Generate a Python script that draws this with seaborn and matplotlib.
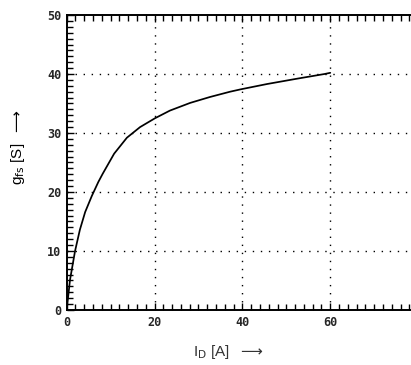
import matplotlib
matplotlib.use("Agg")
import matplotlib.pyplot as plt
from matplotlib.ticker import MultipleLocator
import seaborn as sns
import pandas as pd

# Forward transconductance vs. drain current
drain_current = [0, 0.75, 1.9, 3.0, 4.2, 5.7, 7.2, 8.2, 10.8, 13.7, 16.7,
                 20.1, 23.5, 28.1, 32.6, 37.2, 39.6, 45.6, 52.4, 58.7, 60.0]
transconductance = [0, 5.1, 10.0, 13.6, 16.6, 19.3, 21.7, 23.1, 26.5, 29.2, 31.0,
                    32.5, 33.8, 35.1, 36.1, 37.0, 37.4, 38.3, 39.2, 40.0, 40.2]
x_ticks = [0, 20, 40, 60, 80]
y_ticks = [0, 10, 20, 30, 40, 50]

df = pd.DataFrame({"ID": drain_current, "gfs": transconductance})

sns.set_style("ticks")
plt.rcParams["font.family"] = ["Liberation Sans", "DejaVu Sans"]

fig = plt.figure(figsize=(4.11, 3.65), dpi=100)
ax = fig.add_axes([0.1623, 0.1507, 0.855, 0.8082])

sns.lineplot(data=df, x="ID", y="gfs", ax=ax, color="black", linewidth=1.25,
             estimator=None, sort=False)

ax.set_xlim(0, 80)
ax.set_ylim(0, 50)
ax.set_xticks(x_ticks)
ax.set_yticks(y_ticks)
ax.set_xticklabels([str(v) for v in x_ticks])
ax.set_yticklabels([str(v) for v in y_ticks])
ax.xaxis.set_minor_locator(MultipleLocator(2))
ax.yaxis.set_minor_locator(MultipleLocator(1))

for lab in ax.get_xticklabels() + ax.get_yticklabels():
    lab.set_fontfamily("DejaVu Sans Mono")
    lab.set_fontweight("bold")
    lab.set_fontsize(8.5)

ax.tick_params(which="both", direction="in", top=True, right=True,
               color="black", width=1.0)
ax.tick_params(which="major", length=5, pad=4)
ax.tick_params(which="minor", length=4)
for s in ax.spines.values():
    s.set_linewidth(1.4)
    s.set_color("black")

# dotted grid at the major ticks only
for xv in x_ticks[1:-1]:
    ax.axvline(xv, color="black", linestyle=(0, (1, 4.8)), linewidth=1.0, zorder=0)
for yv in y_ticks[1:-1]:
    ax.axhline(yv, color="black", linestyle=(0, (1, 4.8)), linewidth=1.0, zorder=0)

ax.set_xlabel("")
ax.set_ylabel("")
fig.text(228 / 411, 1 - 352 / 365, r"I$_{\mathrm{D}}$ [A]  $\longrightarrow$",
         ha="center", va="center", fontsize=11, color="#333333")
fig.text(18 / 411, 1 - 147 / 365, r"g$_{\mathrm{fs}}$ [S]  $\longrightarrow$",
         ha="center", va="center", rotation=90, fontsize=11, color="black")

fig.savefig("out.png", dpi=100)
